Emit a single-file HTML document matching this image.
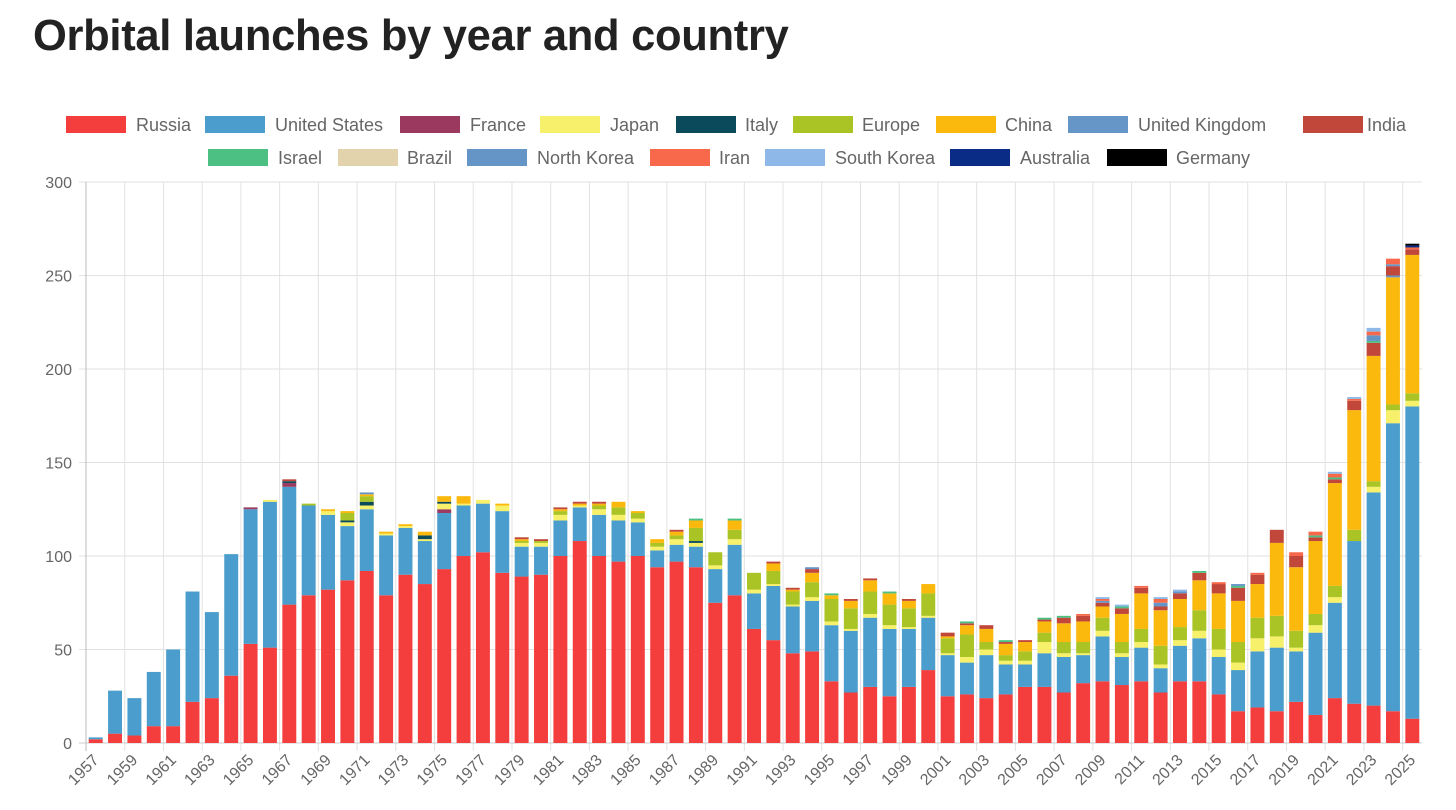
<!DOCTYPE html>
<html><head><meta charset="utf-8">
<style>
body{margin:0;background:#fff;width:1456px;height:810px;overflow:hidden;font-family:"Liberation Sans",sans-serif}
#title{position:absolute;left:33px;top:12px;font-size:43.5px;font-weight:bold;color:#222;margin:0;letter-spacing:-0.3px}
svg{position:absolute;left:0;top:0}
</style></head><body>
<h1 id="title">Orbital launches by year and country</h1>
<svg id="chart" width="1456" height="810"></svg>
<script>
const years=[];for(let y=1957;y<=2025;y++)years.push(y);
const seriesNames=["Russia","United States","France","Japan","Italy","Europe","China","United Kingdom","India","Israel","Brazil","North Korea","Iran","South Korea","Australia","Germany"];
const seriesColors=["#f43d3d","#4a9dcc","#9b3a5e","#f7f06a","#0b4a5a","#a9c424","#fbb90d","#6695c7","#c1473a","#4cc083","#e3d3ad","#6495c6","#f7694a","#8db8e8","#0a2c86","#000000"];
const russia=[2,5,4,9,9,22,24,36,53,51,74,79,82,87,92,79,90,85,93,100,102,91,89,90,100,108,100,97,100,94,97,94,75,79,61,55,48,49,33,27,30,25,30,39,25,26,24,26,30,30,27,32,33,31,33,27,33,33,26,17,19,17,22,15,24,21,20,17,13];
const us=[1,23,20,29,41,59,46,65,72,78,63,48,40,29,33,32,25,23,30,27,26,33,16,15,19,18,22,22,18,9,9,11,18,27,19,29,25,27,30,33,37,36,31,28,22,17,23,16,12,18,19,15,24,15,18,13,19,23,20,22,30,34,27,44,51,87,114,154,167];
const france=[0,0,0,0,0,0,0,0,1,0,2,0,0,0,0,0,0,0,2,0,0,0,0,0,0,0,0,0,0,0,0,0,0,0,0,0,0,0,0,0,0,0,0,0,0,0,0,0,0,0,0,0,0,0,0,0,0,0,0,0,0,0,0,0,0,0,0,0,0];
const japan=[0,0,0,0,0,0,0,0,0,1,0,0,2,2,2,1,1,1,3,1,2,3,2,2,3,1,3,3,2,2,3,2,2,3,2,1,1,2,2,1,2,2,1,1,1,3,3,2,2,6,2,1,3,2,3,2,3,4,4,4,7,6,2,4,3,0,3,7,3];
const italy=[0,0,0,0,0,0,0,0,0,0,1,0,0,1,2,0,0,2,1,0,0,0,0,0,0,0,0,0,0,0,0,1,0,0,0,0,0,0,0,0,0,0,0,0,0,0,0,0,0,0,0,0,0,0,0,0,0,0,0,0,0,0,0,0,0,0,0,0,0];
const europe=[0,0,0,0,0,0,0,0,0,0,0,1,0,4,3,0,0,0,0,0,0,0,1,1,2,0,2,4,3,2,2,7,7,5,9,7,7,8,12,11,12,11,10,12,8,12,4,3,5,5,6,6,7,6,7,10,7,11,11,11,11,11,9,6,6,6,3,3,4];
const china=[0,0,0,0,0,0,0,0,0,0,0,0,1,1,1,1,1,2,3,4,0,1,1,0,1,1,1,3,1,2,2,4,0,5,0,4,1,5,2,4,6,6,4,5,1,5,7,6,5,6,10,11,6,15,19,19,15,16,19,22,18,39,34,39,55,64,67,68,74];
const uk=[0,0,0,0,0,0,0,0,0,0,0,0,0,0,1,0,0,0,0,0,0,0,0,0,0,0,0,0,0,0,0,0,0,0,0,0,0,0,0,0,0,0,0,0,0,0,0,0,0,0,0,0,0,0,0,0,0,0,0,0,0,0,0,0,0,0,0,1,0];
const india=[0,0,0,0,0,0,0,0,0,0,1,0,0,0,0,0,0,0,0,0,0,0,1,1,1,1,1,0,0,0,1,0,0,0,0,1,1,2,0,1,1,0,1,0,2,1,2,1,1,1,3,3,2,3,3,2,3,4,5,7,5,7,6,2,2,5,7,5,3];
const israel=[0,0,0,0,0,0,0,0,0,0,0,0,0,0,0,0,0,0,0,0,0,0,0,0,0,0,0,0,0,0,0,1,0,1,0,0,0,0,1,0,0,1,0,0,0,1,0,1,0,1,1,0,0,1,0,0,0,1,0,1,0,0,0,1,1,0,1,0,0];
const brazil=[0,0,0,0,0,0,0,0,0,0,0,0,0,0,0,0,0,0,0,0,0,0,0,0,0,0,0,0,0,0,0,0,0,0,0,0,0,0,0,0,0,0,0,0,0,0,0,0,0,0,0,0,0,0,0,0,0,0,0,0,0,0,0,0,0,0,0,0,0];
const northKorea=[0,0,0,0,0,0,0,0,0,0,0,0,0,0,0,0,0,0,0,0,0,0,0,0,0,0,0,0,0,0,0,0,0,0,0,0,0,1,0,0,0,0,0,0,0,0,0,0,0,0,0,0,1,0,0,2,1,0,0,1,0,0,0,0,0,0,3,1,0];
const iran=[0,0,0,0,0,0,0,0,0,0,0,0,0,0,0,0,0,0,0,0,0,0,0,0,0,0,0,0,0,0,0,0,0,0,0,0,0,0,0,0,0,0,0,0,0,0,0,0,0,0,0,1,1,0,1,2,0,0,1,0,1,0,2,2,2,1,2,3,1];
const southKorea=[0,0,0,0,0,0,0,0,0,0,0,0,0,0,0,0,0,0,0,0,0,0,0,0,0,0,0,0,0,0,0,0,0,0,0,0,0,0,0,0,0,0,0,0,0,0,0,0,0,0,0,0,1,1,0,1,1,0,0,0,0,0,0,0,1,1,2,0,0];
const australia=[0,0,0,0,0,0,0,0,0,0,0,0,0,0,0,0,0,0,0,0,0,0,0,0,0,0,0,0,0,0,0,0,0,0,0,0,0,0,0,0,0,0,0,0,0,0,0,0,0,0,0,0,0,0,0,0,0,0,0,0,0,0,0,0,0,0,0,0,1];
const germany=[0,0,0,0,0,0,0,0,0,0,0,0,0,0,0,0,0,0,0,0,0,0,0,0,0,0,0,0,0,0,0,0,0,0,0,0,0,0,0,0,0,0,0,0,0,0,0,0,0,0,0,0,0,0,0,0,0,0,0,0,0,0,0,0,0,0,0,0,1];
const series=[russia,us,france,japan,italy,europe,china,uk,india,israel,brazil,northKorea,iran,southKorea,australia,germany];
const yTicks=[0,50,100,150,200,250,300];

const NS="http://www.w3.org/2000/svg";
const svg=document.getElementById('chart');
function mk(tag,attrs,parent){const e=document.createElementNS(NS,tag);for(const k in attrs)e.setAttribute(k,attrs[k]);(parent||svg).appendChild(e);return e;}
const X0=86,X1=1422,Y0=743,Ytop=182,YMAX=300;
const band=(X1-X0)/years.length;
const xLeft=i=>X0+i*band;
const xCenter=i=>X0+(i+0.5)*band;
const yScale=v=>Y0-(v/YMAX)*(Y0-Ytop);

const grid=mk('g',{});


yTicks.forEach(t=>{
  const y=yScale(t);
  mk('line',{x1:X0-7,x2:X1,y1:y,y2:y,stroke:'#e2e2e2','stroke-width':1},grid);
  const tx=mk('text',{x:X0-14,y:y+6,'text-anchor':'end','font-size':16,fill:'#666'});
  tx.textContent=t;
  
  
});
years.forEach((yr,i)=>{
  if(i%2!==0)return;
  const x=xLeft(i);
  mk('line',{x1:x,x2:x,y1:Ytop,y2:Y0+8,stroke:i===0?'#bbb':'#e2e2e2','stroke-width':1},grid);
  const cx=xCenter(i)+4, cy=Y0+18;
  const tx=mk('text',{x:cx,y:cy,'text-anchor':'end','font-size':16,fill:'#666',transform:`rotate(-45 ${cx} ${cy})`});
  tx.textContent=yr;
  
  
});
mk('line',{x1:X0-7,x2:X1,y1:Y0,y2:Y0,stroke:'#ccc','stroke-width':1},grid);

const barW=band*0.72;
const bars=mk('g',{});


years.forEach((yr,i)=>{
  let cum=0;
  series.forEach((s,k)=>{
    const v=s[i];if(!v)return;
    const y1=yScale(cum),y2=yScale(cum+v);cum+=v;
    const r=mk('rect',{x:xCenter(i)-barW/2,y:y2,width:barW,height:y1-y2,fill:seriesColors[k]},bars);
    
    
  });
});

const row1=[[66,136],[205,275],[400,470],[540,610],[676,745],[793,862],[936,1005],[1068,1138],[1303,1367]];
const row2=[[208,278],[338,407],[467,537],[650,719],[765,835],[950,1020],[1107,1176]];
const leg=mk('g',{});


seriesNames.forEach((n,k)=>{
  const p=k<9?row1[k]:row2[k-9];
  const y=k<9?116:149;
  const g=mk('g',{},leg);
  
  
  mk('rect',{x:p[0],y:y,width:60,height:17,fill:seriesColors[k]},g);
  const t=mk('text',{x:p[1],y:y+15,'font-size':18,fill:'#666'},g);
  t.textContent=n;
});
</script>
</body></html>
